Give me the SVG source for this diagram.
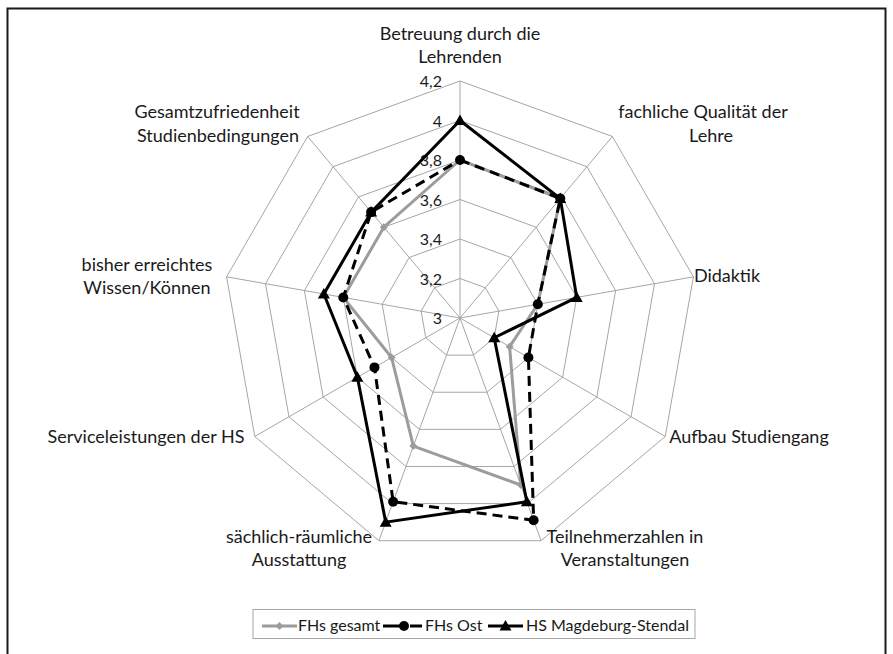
<svg xmlns="http://www.w3.org/2000/svg" xmlns:xlink="http://www.w3.org/1999/xlink" width="893" height="654" viewBox="0 0 893 654">
<style>
.grid{fill:none;stroke:#a6a6a6;stroke-width:1}
.spoke{stroke:#a6a6a6;stroke-width:1}
.lbl{font-family:Lato,"Liberation Sans",sans-serif;font-size:18px;fill:#1a1a1a;text-anchor:middle}
.tick{font-family:Lato,"Liberation Sans",sans-serif;font-size:16px;fill:#1a1a1a;text-anchor:end}
.leg{font-family:Lato,"Liberation Sans",sans-serif;font-size:16px;fill:#1a1a1a}
.s1{fill:none;stroke:#9c9c9c;stroke-width:3;stroke-linejoin:round}
.s2{fill:none;stroke:#000;stroke-width:3;stroke-dasharray:10 6}
.s3{fill:none;stroke:#000;stroke-width:3;stroke-linejoin:miter}
</style>
<defs>
<path id="dia" d="M0,-4 L4,0 L0,4 L-4,0 Z" fill="#9c9c9c"/>
<circle id="dot" r="5" fill="#000"/>
<path id="tri" d="M0,-6 L6,4.5 L-6,4.5 Z" fill="#000"/>
</defs>
<rect x="0" y="0" width="893" height="654" fill="#fff"/>
<rect id="frame" x="7.5" y="8.5" width="878" height="650" fill="none" stroke="#1a1a1a" stroke-width="2"/>
<g id="grid">
<polygon class="grid" points="460,278.5 485.39,287.74 498.90,311.14 494.21,337.75 473.51,355.12 446.49,355.12 425.79,337.75 421.10,311.14 434.61,287.74"/>
<polygon class="grid" points="460,239 510.78,257.48 537.80,304.28 528.42,357.5 487.02,392.24 432.98,392.24 391.58,357.5 382.20,304.28 409.22,257.48"/>
<polygon class="grid" points="460,199.5 536.17,227.22 576.70,297.42 562.62,377.25 500.53,429.35 419.47,429.35 357.38,377.25 343.30,297.42 383.83,227.22"/>
<polygon class="grid" points="460,160 561.56,196.97 615.60,290.56 596.83,397 514.04,466.47 405.96,466.47 323.17,397 304.40,290.56 358.44,196.97"/>
<polygon class="grid" points="460,120.5 586.95,166.71 654.50,283.70 631.04,416.75 527.55,503.59 392.45,503.59 288.96,416.75 265.50,283.70 333.05,166.71"/>
<polygon class="grid" points="460,81 612.34,136.45 693.40,276.84 665.25,436.5 541.06,540.71 378.94,540.71 254.75,436.5 226.60,276.84 307.66,136.45"/>
<path class="spoke" d="M460,318 L460,81 M460,318 L612.34,136.45 M460,318 L693.40,276.84 M460,318 L665.25,436.5 M460,318 L541.06,540.71 M460,318 L378.94,540.71 M460,318 L254.75,436.5 M460,318 L226.60,276.84 M460,318 L307.66,136.45"/>
</g>
<g id="ticks">
<text class="tick" x="442" y="323.5">3</text>
<text class="tick" x="442" y="284.5">3,2</text>
<text class="tick" x="442" y="245">3,4</text>
<text class="tick" x="442" y="205.5">3,6</text>
<text class="tick" x="442" y="166">3,8</text>
<text class="tick" x="442" y="126.5">4</text>
<text class="tick" x="442" y="87">4,2</text>
</g>
<g id="labels">
<g id="n-betreuung"><text class="lbl" x="460" y="40">Betreuung durch die</text><text class="lbl" x="460" y="63">Lehrenden</text></g>
<g id="n-fachlich"><text class="lbl" x="703" y="118">fachliche Qualität der</text><text class="lbl" x="711" y="142">Lehre</text></g>
<g id="n-didaktik"><text class="lbl" x="727" y="282">Didaktik</text></g>
<g id="n-aufbau"><text class="lbl" x="749" y="443">Aufbau Studiengang</text></g>
<g id="n-teilnehmer"><text class="lbl" x="625" y="543">Teilnehmerzahlen in</text><text class="lbl" x="625" y="566">Veranstaltungen</text></g>
<g id="n-saechlich"><text class="lbl" x="299" y="543">sächlich-räumliche</text><text class="lbl" x="299" y="566">Ausstattung</text></g>
<g id="n-service"><text class="lbl" x="146" y="443">Serviceleistungen der HS</text></g>
<g id="n-bisher"><text class="lbl" x="147" y="271">bisher erreichtes</text><text class="lbl" x="147" y="294">Wissen/Können</text></g>
<g id="n-gesamt"><text class="lbl" x="217" y="118">Gesamtzufriedenheit</text><text class="lbl" x="218" y="142">Studienbedingungen</text></g>
</g>
<g id="connectors">
<g id="series-fhs-gesamt">
<polygon class="s1" points="460,160 560.28,198.50 537.80,304.28 509.62,346.65 520.79,485.03 413.38,446.08 391.58,357.5 343.30,297.42 383.83,227.22"/>
<use xlink:href="#dia" x="460" y="160"/><use xlink:href="#dia" x="560.28" y="198.5"/><use xlink:href="#dia" x="537.8" y="304.28"/><use xlink:href="#dia" x="509.62" y="346.65"/><use xlink:href="#dia" x="520.79" y="485.03"/><use xlink:href="#dia" x="413.38" y="446.08"/><use xlink:href="#dia" x="391.58" y="357.5"/><use xlink:href="#dia" x="343.3" y="297.42"/><use xlink:href="#dia" x="383.83" y="227.22"/>
</g>
<g id="series-fhs-ost">
<polygon class="s2" points="460,160 560.28,198.50 537.80,304.28 528.42,357.5 533.64,520.32 393.14,501.71 374.48,367.38 343.30,297.42 371.13,212.09"/>
<use xlink:href="#dot" x="460" y="160"/><use xlink:href="#dot" x="560.28" y="198.5"/><use xlink:href="#dot" x="537.8" y="304.28"/><use xlink:href="#dot" x="528.42" y="357.5"/><use xlink:href="#dot" x="533.64" y="520.32"/><use xlink:href="#dot" x="393.14" y="501.71"/><use xlink:href="#dot" x="374.48" y="367.38"/><use xlink:href="#dot" x="343.3" y="297.42"/><use xlink:href="#dot" x="371.13" y="212.09"/>
</g>
<g id="series-hs-ms">
<polygon class="s3" points="460,120.5 560.28,198.50 576.70,297.42 494.21,337.75 526.86,501.71 385.70,522.15 357.38,377.25 323.85,293.99 371.13,212.09"/>
<use xlink:href="#tri" x="460" y="120.5"/><use xlink:href="#tri" x="560.28" y="198.5"/><use xlink:href="#tri" x="576.7" y="297.42"/><use xlink:href="#tri" x="494.21" y="337.75"/><use xlink:href="#tri" x="526.86" y="501.71"/><use xlink:href="#tri" x="385.7" y="522.15"/><use xlink:href="#tri" x="357.38" y="377.25"/><use xlink:href="#tri" x="323.85" y="293.99"/><use xlink:href="#tri" x="371.13" y="212.09"/>
</g>
</g>
<g id="legend">
<rect x="253" y="609.5" width="442" height="29" fill="#fff" stroke="#a6a6a6" stroke-width="1"/>
<line x1="262" y1="626" x2="297" y2="626" stroke="#9c9c9c" stroke-width="3"/>
<use xlink:href="#dia" x="279.5" y="626"/>
<text class="leg" x="298" y="631">FHs gesamt</text>
<line x1="383" y1="626" x2="401" y2="626" stroke="#000" stroke-width="3"/>
<line x1="410" y1="626" x2="422" y2="626" stroke="#000" stroke-width="3"/>
<use xlink:href="#dot" x="404" y="626"/>
<text class="leg" x="425" y="631">FHs Ost</text>
<line x1="488" y1="626" x2="523" y2="626" stroke="#000" stroke-width="3"/>
<use xlink:href="#tri" x="505.5" y="626"/>
<text class="leg" x="526" y="631">HS Magdeburg-Stendal</text>
</g>
</svg>
